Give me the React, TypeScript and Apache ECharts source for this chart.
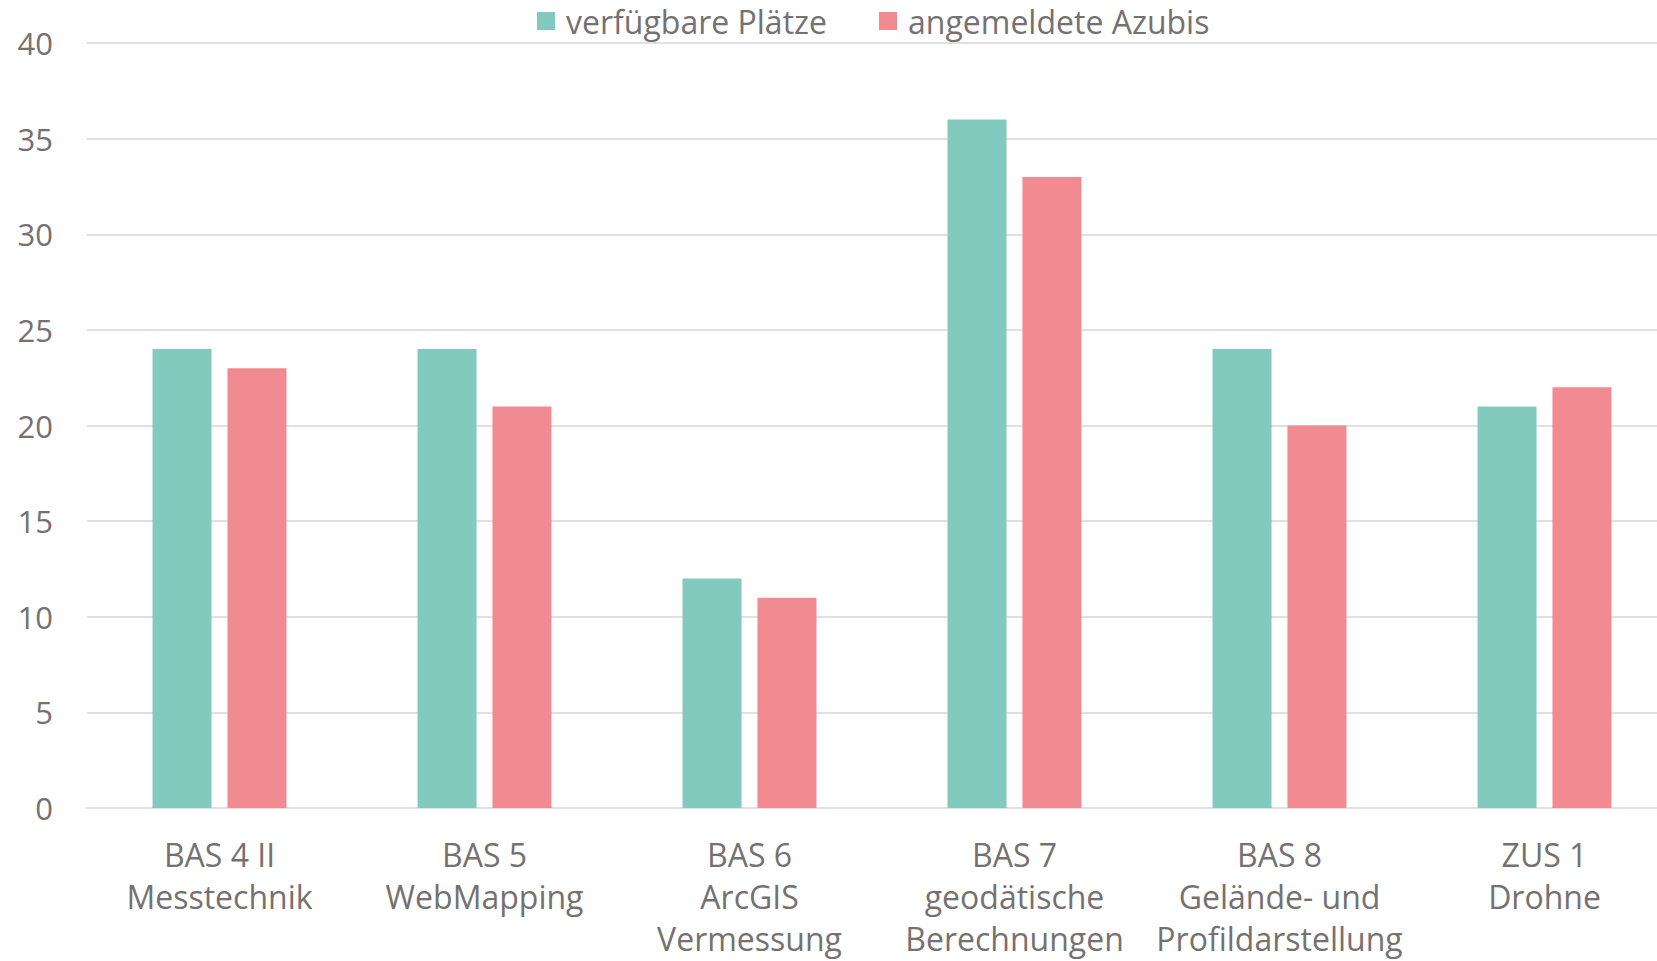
import React, { useEffect, useRef } from "react";
import * as echarts from "echarts";

const categories = [
  "BAS 4 II\nMesstechnik",
  "BAS 5\nWebMapping",
  "BAS 6\nArcGIS\nVermessung",
  "BAS 7\ngeodätische\nBerechnungen",
  "BAS 8\nGelände- und\nProfildarstellung",
  "ZUS 1\nDrohne",
];
const seriesNames = ["verfügbare Plätze", "angemeldete Azubis"];
const verfuegbarePlaetze = [24, 24, 12, 36, 24, 21];
const angemeldeteAzubis = [23, 21, 11, 33, 20, 22];
const colors = ["#82CABE", "#F28A92"];

export default function App() {
  const ref = useRef<HTMLDivElement>(null);
  useEffect(() => {
    if (!ref.current) return;
    const chart = echarts.init(ref.current, undefined, { renderer: "svg" });
    const textColor = "#767171";
    const font = "'Open Sans', sans-serif";
    chart.setOption({
      animation: false,
      backgroundColor: "#ffffff",
      textStyle: { fontFamily: font },
      legend: {
        top: 5,
        left: 537,
        padding: 0,
        itemWidth: 18,
        itemHeight: 18,
        itemGap: 52,
        icon: "rect",
        textStyle: { fontSize: 32, color: textColor, fontFamily: font, padding: [0, 0, 0, 6] },
        data: seriesNames,
      },
      grid: {
        left: 87,
        width: 1590,
        top: 43,
        bottom: 153,
        containLabel: false,
        outerBoundsMode: "none",
      },
      xAxis: {
        type: "category",
        data: categories,
        axisLine: { lineStyle: { color: "#E0E0E0", width: 2 } },
        axisTick: { show: false },
        axisLabel: {
          color: textColor,
          fontSize: 32,
          lineHeight: 42,
          margin: 25,
          fontFamily: font,
          interval: 0,
        },
      },
      yAxis: {
        type: "value",
        min: 0,
        max: 40,
        interval: 5,
        axisLine: { show: false },
        axisTick: { show: false },
        splitLine: { lineStyle: { color: "#E0E0E0", width: 2 } },
        axisLabel: { color: textColor, fontSize: 31, margin: 34, fontFamily: font },
      },
      series: [
        {
          name: seriesNames[0],
          type: "bar",
          data: verfuegbarePlaetze,
          barWidth: 59,
          barGap: "27%",
          itemStyle: { color: colors[0] },
        },
        {
          name: seriesNames[1],
          type: "bar",
          data: angemeldeteAzubis,
          barWidth: 59,
          barGap: "27%",
          itemStyle: { color: colors[1] },
        },
      ],
    });
    return () => chart.dispose();
  }, []);
  return (
    <div
      ref={ref}
      style={{ position: "absolute", left: 0, top: 0, width: 1657, height: 961, overflow: "hidden" }}
    />
  );
}
